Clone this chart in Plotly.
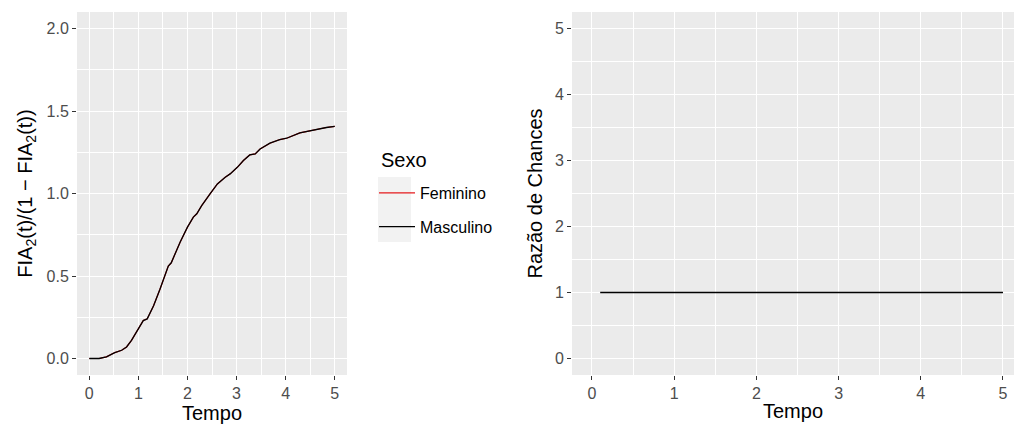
import plotly.graph_objects as go

# ---- data ----
tempo = [0, 0.2, 0.35, 0.52, 0.66, 0.76, 0.86, 1.0, 1.1, 1.18, 1.31, 1.44, 1.61, 1.67,
         1.75, 1.85, 2.0, 2.12, 2.19, 2.29, 2.46, 2.61, 2.77, 2.87, 3.02, 3.14, 3.27,
         3.38, 3.48, 3.68, 3.88, 4.02, 4.29, 4.56, 4.83, 5.0]
chance_fem = [0, 0, 0.01, 0.036, 0.05, 0.07, 0.11, 0.18, 0.23, 0.24, 0.32, 0.42, 0.56,
              0.58, 0.635, 0.705, 0.796, 0.857, 0.877, 0.927, 0.998, 1.058, 1.099, 1.119,
              1.16, 1.2, 1.234, 1.24, 1.27, 1.305, 1.327, 1.335, 1.367, 1.385, 1.40, 1.407]
chance_masc = list(chance_fem)
tempo_razao = [0.1, 5.0]
razao = [1, 1]
sexo = ["Feminino", "Masculino"]
cores = ["#E41A1C", "#000000"]
larguras = [1.2, 1.3]

FONT = "Arial, Liberation Sans, sans-serif"
W, H = 1014, 430

fig = go.Figure()
for nome, cor, lw, vals in zip(sexo, cores, larguras, [chance_fem, chance_masc]):
    fig.add_trace(go.Scatter(x=tempo, y=vals, mode="lines", name=nome,
                             legendgroup=nome,
                             line=dict(color=cor, width=lw),
                             xaxis="x", yaxis="y"))
fig.add_trace(go.Scatter(x=tempo_razao, y=razao, mode="lines", showlegend=False,
                         line=dict(color="#000000", width=1.3),
                         xaxis="x2", yaxis="y2"))


def px_x(p):
    return p / W


def px_y(p):
    return 1 - p / H


tick_font = dict(family=FONT, size=16, color="#4D4D4D")
title_font = dict(family=FONT, size=20, color="#000000")
common = dict(showgrid=True, gridcolor="white", gridwidth=1.2, zeroline=False,
              ticks="outside", ticklen=4, tickwidth=1, tickcolor="#333333",
              tickfont=tick_font, showline=False, fixedrange=True)
minor_x = dict(dtick=0.5, tick0=0, showgrid=True, gridcolor="white",
               gridwidth=0.6, ticks="")

fig.update_layout(
    width=W, height=H,
    margin=dict(l=0, r=0, t=0, b=0),
    paper_bgcolor="white",
    plot_bgcolor="#EBEBEB",
    font=dict(family=FONT),
    xaxis=dict(domain=[px_x(77), px_x(347)], range=[-0.25, 5.25], dtick=1, tick0=0,
               anchor="y", minor=minor_x,
               title=dict(text="Tempo", font=title_font, standoff=2), **common),
    yaxis=dict(domain=[px_y(375), px_y(12)], range=[-0.1, 2.1], dtick=0.5, tick0=0,
               tickformat=".1f", anchor="x",
               minor=dict(dtick=0.25, tick0=0, showgrid=True, gridcolor="white",
                          gridwidth=0.6, ticks=""),
               title=dict(text="FIA<sub>2</sub>(t)/(1 − FIA<sub>2</sub>(t))",
                          font=title_font, standoff=8), **common),
    xaxis2=dict(domain=[px_x(572), 1.0], range=[-0.243, 5.134], dtick=1, tick0=0,
                anchor="y2", minor=minor_x,
                title=dict(text="Tempo", font=title_font, standoff=2), **common),
    yaxis2=dict(domain=[px_y(375), px_y(12)], range=[-0.25, 5.25], dtick=1, tick0=0,
                anchor="x2",
                minor=dict(dtick=0.5, tick0=0, showgrid=True, gridcolor="white",
                           gridwidth=0.6, ticks=""),
                title=dict(text="Razão de Chances", font=title_font, standoff=6),
                **common),
    showlegend=True,
    legend=dict(x=px_x(374), y=px_y(176), xanchor="left", yanchor="top",
                bgcolor="rgba(0,0,0,0)",
                font=dict(family=FONT, size=16, color="#000"),
                tracegroupgap=10, itemwidth=36, traceorder="grouped"),
)

# legend title
fig.add_annotation(text="Sexo", xref="paper", yref="paper", x=px_x(379), y=px_y(160),
                   xanchor="left", yanchor="middle", showarrow=False,
                   font=dict(family=FONT, size=20, color="#000"))

# grey key background behind legend symbols
fig.add_shape(type="rect", xref="paper", yref="paper",
              x0=px_x(378), x1=px_x(411), y0=px_y(242), y1=px_y(177),
              fillcolor="#F2F2F2", line=dict(width=0), layer="below")

fig.write_html("out.html")
